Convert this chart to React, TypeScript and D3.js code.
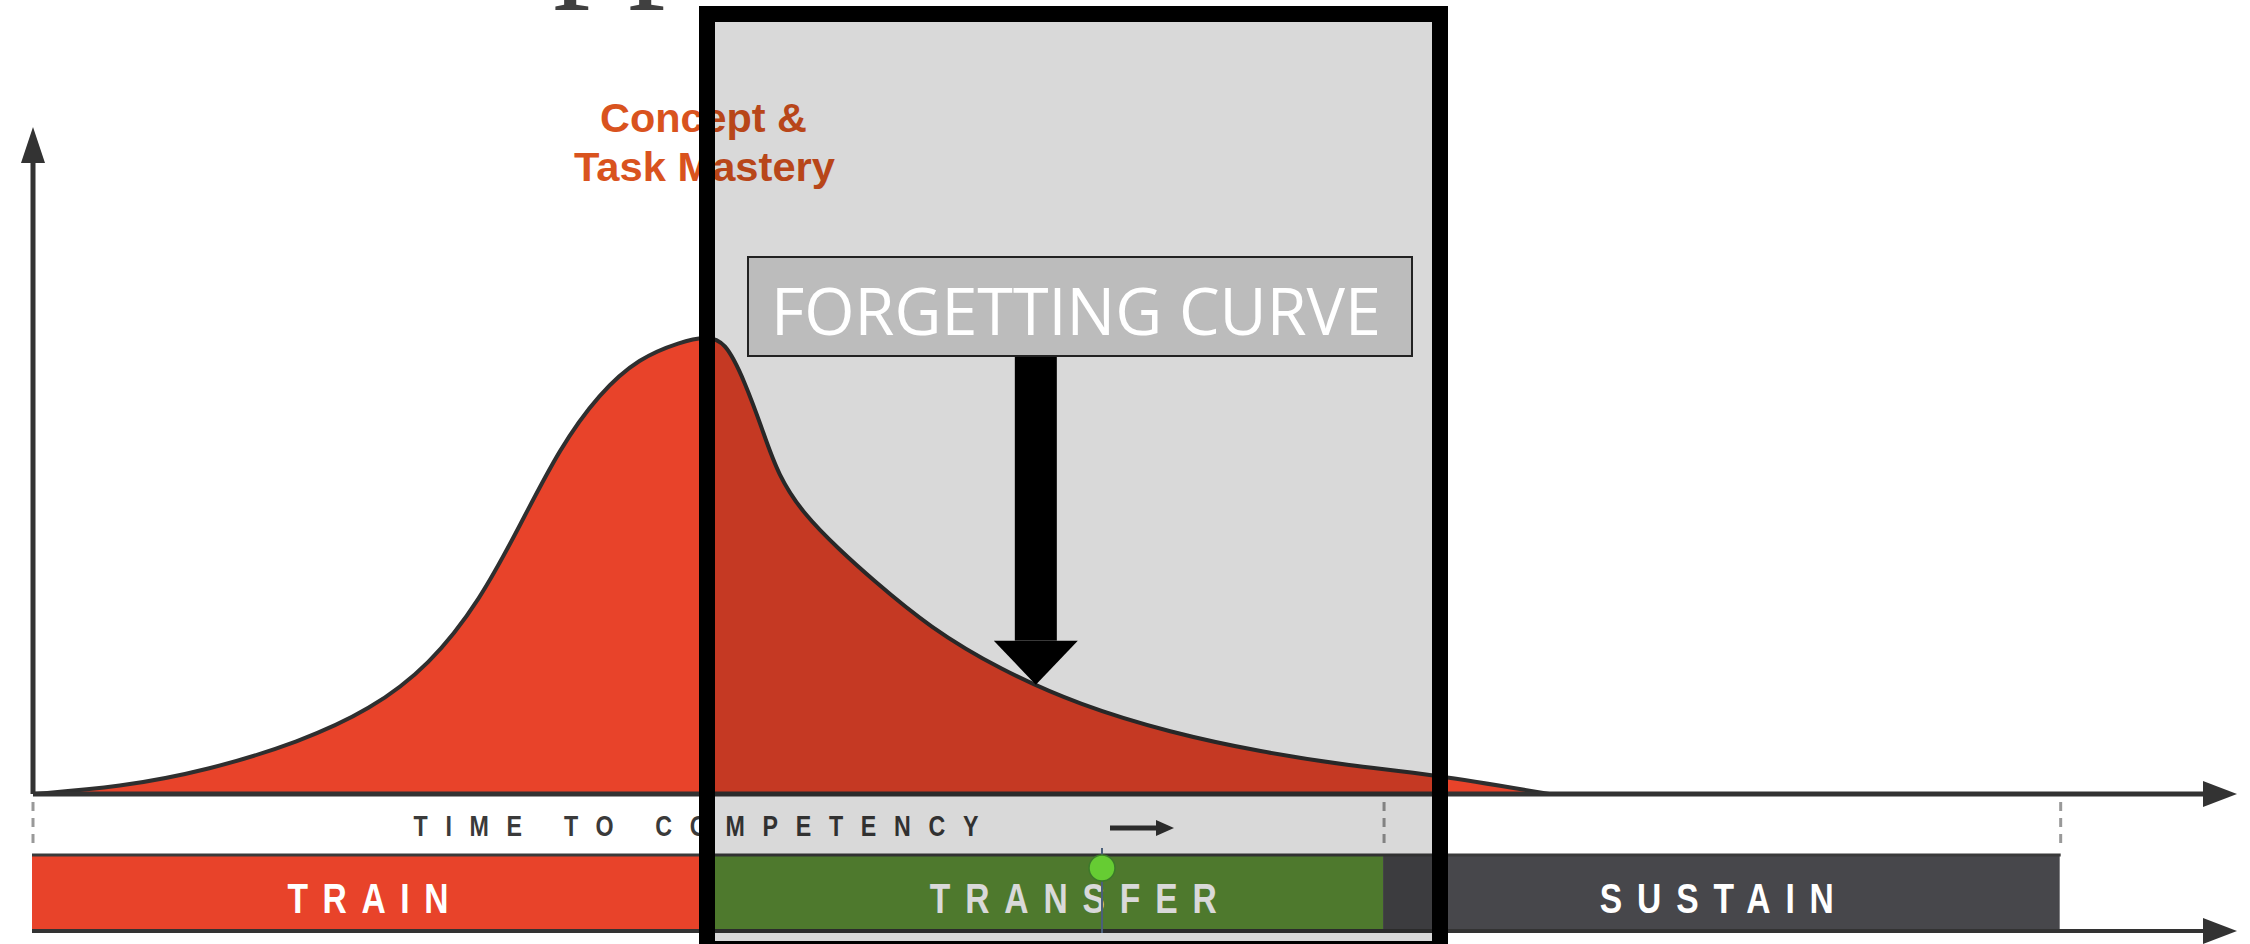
import React from 'react';
import * as d3 from 'd3';

// competency curve (time 0-100, level 0-100)
const curveTime = [0, 3.9, 8.0, 12.1, 15.3, 18.0, 20.3, 22.1, 23.9, 25.7, 27.5, 29.4, 30.5, 31.4, 32.3, 33.1, 33.8, 35.0, 36.6, 38.0, 40.7, 43.9, 47.5, 51.6, 55.7, 59.8, 63.4, 68.8];
const curveLevel = [0, 1.0, 3.6, 7.8, 12.6, 19.3, 29.1, 40.3, 51.9, 60.1, 65.4, 67.8, 68.6, 68.0, 61.8, 54.6, 47.8, 41.8, 36.6, 32.4, 24.9, 18.6, 13.3, 9.2, 6.3, 4.2, 3.0, 0];

const phaseNames = ['TRAIN', 'TRANSFER', 'SUSTAIN'];
const phaseStart = [0, 30.6, 61.3];
const phaseEnd = [30.6, 61.3, 92];
const phaseLabelAt = [15.2, 47.2, 76.4];
const phaseColors = ['#E8432A', '#5C8F36', '#47474B'];
const milestones = [0, 61.3, 92];

const W = 2250;
const H = 944;
const axisY = 794;
const barTop = 855;
const barBottom = 931;
const frame = { x: 707, y: 14, w: 733, h: 935 };
const squeeze = 0.8;

const App: React.FC = () => {
    const x = d3.scaleLinear().domain([0, 100]).range([33, 2237]);
    const y = d3.scaleLinear().domain([0, 100]).range([axisY, 127]);

    const pts = curveTime.map((t, i) => ({ t, v: curveLevel[i] }));

    const area = d3
        .area<{ t: number; v: number }>()
        .x((d) => x(d.t))
        .y0(y(0))
        .y1((d) => y(d.v))
        .curve(d3.curveBasis);

    const line = d3
        .line<{ t: number; v: number }>()
        .x((d) => x(d.t))
        .y((d) => y(d.v))
        .curve(d3.curveBasis);

    // arrow of the forgetting curve points at the curve
    const arrowT = 45.5;
    const arrowLevel = d3.scaleLinear().domain(curveTime).range(curveLevel)(arrowT);
    const tipX = x(arrowT);
    const tipY = y(arrowLevel) - 1;

    const sans = "'Liberation Sans', Arial, sans-serif";

    // condensed, letter-spaced label
    const spaced = (label: string, cx: number, by: number, w: number, size: number, fill: string) => (
        <text
            key={label}
            transform={`translate(${cx},${by}) scale(${squeeze},1)`}
            x={-w / squeeze / 2}
            y={0}
            fontFamily={sans}
            fontWeight={700}
            fontSize={size}
            fill={fill}
            textLength={w / squeeze}
            lengthAdjust="spacing"
        >
            {label}
        </text>
    );

    return (
        <svg
            width={W}
            height={H}
            style={{ position: 'absolute', left: 0, top: 0, display: 'block', background: '#fff' }}
        >
            {/* cut-off slide title */}
            <text x={553} y={-22} fontFamily="'Liberation Serif', serif" fontSize={150} fill="#404040">
                pp
            </text>

            {/* curve */}
            <path d={area(pts) || ''} fill="#E8432A" />
            <path d={line(pts) || ''} fill="none" stroke="#2f2f2f" strokeWidth={4} />

            {/* y axis */}
            <line x1={x(0)} x2={x(0)} y1={axisY} y2={150} stroke="#333" strokeWidth={5} />
            <path d={`M${x(0)},${y(100)} L${x(0) - 12},${y(100) + 36} L${x(0) + 12},${y(100) + 36} Z`} fill="#333" />

            {/* x axis */}
            <line x1={x(0)} x2={x(100) - 20} y1={axisY} y2={axisY} stroke="#333" strokeWidth={5} />
            <path d={`M${x(100)},${axisY} L${x(100) - 34},${axisY - 13} L${x(100) - 34},${axisY + 13} Z`} fill="#333" />

            {/* milestone ticks */}
            {milestones.map((m, i) => (
                <line
                    key={i}
                    x1={x(m)}
                    x2={x(m)}
                    y1={axisY + 8}
                    y2={barTop - 6}
                    stroke="#999"
                    strokeWidth={3}
                    strokeDasharray="9 7"
                />
            ))}

            {spaced('TIME TO COMPETENCY', 696, 836, 565, 29, '#3a3a3a')}
            <line x1={1110} x2={1160} y1={828} y2={828} stroke="#333" strokeWidth={5} />
            <path d="M1174,828 L1156,820 L1156,836 Z" fill="#333" />

            {/* phase bars */}
            {phaseNames.map((p, i) => (
                <rect
                    key={p}
                    x={x(phaseStart[i]) - 1}
                    y={barTop}
                    width={x(phaseEnd[i]) - x(phaseStart[i])}
                    height={barBottom - barTop}
                    fill={phaseColors[i]}
                />
            ))}
            <line x1={x(0) - 1} x2={x(92)} y1={barTop} y2={barTop} stroke="#3a3a3a" strokeWidth={3} />
            {phaseNames.map((p, i) => {
                const widths = [161, 287, 234];
                return spaced(p, x(phaseLabelAt[i]), 913, widths[i], 42, '#fff');
            })}
            <line x1={x(0) - 1} x2={x(100) - 20} y1={barBottom} y2={barBottom} stroke="#333" strokeWidth={4} />
            <path d={`M${x(100)},${barBottom} L${x(100) - 34},${barBottom - 13} L${x(100) - 34},${barBottom + 13} Z`} fill="#333" />

            {/* peak label */}
            <g fontFamily={sans} fontWeight={700} fontSize={40} fill="#D9531E">
                <text x={600} y={132} textLength={207} lengthAdjust="spacingAndGlyphs">
                    Concept &amp;
                </text>
                <text x={574} y={181} textLength={261} lengthAdjust="spacingAndGlyphs">
                    Task Mastery
                </text>
            </g>

            {/* highlight frame overlay */}
            <rect x={frame.x} y={frame.y} width={frame.w} height={frame.h} fill="#000" opacity={0.15} />

            {/* forgetting curve callout */}
            <rect x={748} y={257} width={664} height={99} fill="#BCBCBC" stroke="#222" strokeWidth={2} />
            <text
                x={771}
                y={335}
                fontFamily="'Open Sans', 'Noto Sans', sans-serif"
                fontSize={65}
                fill="#fff"
                textLength={610}
                lengthAdjust="spacingAndGlyphs"
            >
                FORGETTING CURVE
            </text>
            <rect x={tipX - 21} y={357} width={42} height={tipY - 44 - 357} fill="#000" />
            <path d={`M${tipX - 42},${tipY - 44} L${tipX + 42},${tipY - 44} L${tipX},${tipY} Z`} fill="#000" />

            <rect
                x={frame.x}
                y={frame.y}
                width={frame.w}
                height={frame.h}
                fill="none"
                stroke="#000"
                strokeWidth={16}
            />

            {/* selection handle */}
            <line x1={1102} x2={1102} y1={848} y2={933} stroke="#4a5f7a" strokeWidth={2} />
            <circle cx={1102} cy={868} r={13} fill="#66CC33" stroke="#3d7a2a" strokeWidth={1.5} />
        </svg>
    );
};

export default App;
